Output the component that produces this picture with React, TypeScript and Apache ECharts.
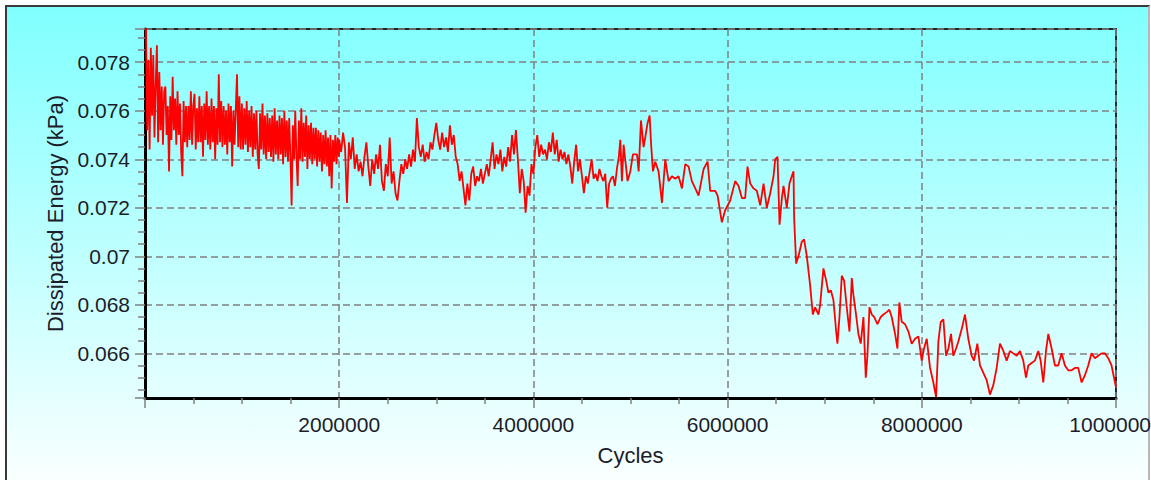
import React, { useEffect, useRef } from "react";
import * as echarts from "echarts";

// Dissipated energy per loading cycle, recorded at three sampling rates.
// Early phase: one reading every 12 500 cycles starting at 10 000.
const earlyStart = 10000;
const earlyStep = 12500;
const earlyEnergy = [
  0.0794, 0.0752, 0.0781, 0.0744, 0.0786, 0.0758, 0.0783, 0.0749, 0.0771, 0.0787,
  0.0747, 0.0776, 0.0752, 0.0770, 0.0746, 0.0768,
  0.0770, 0.0750, 0.0762, 0.0735, 0.0766, 0.0748, 0.0774, 0.0752, 0.0765, 0.0746,
  0.0768, 0.0750, 0.0763, 0.0743, 0.0733, 0.0764, 0.0747, 0.0762, 0.0745, 0.0762,
  0.0748, 0.0768, 0.0746, 0.0762,
  0.0767, 0.0744, 0.0761, 0.0747, 0.0766, 0.0747, 0.0762, 0.0741, 0.0763, 0.0748,
  0.0768, 0.0746, 0.0762, 0.0744, 0.0765, 0.0747, 0.0762, 0.0740, 0.0761, 0.0746,
  0.0775, 0.0747, 0.0764, 0.0745, 0.0762, 0.0746, 0.0760, 0.0742, 0.0763, 0.0747,
  0.0762, 0.0737, 0.0760, 0.0746, 0.0761, 0.0775, 0.0745, 0.0766, 0.0744, 0.0763,
  0.0744, 0.0761, 0.0746, 0.0764, 0.0743, 0.0760, 0.0745, 0.0762, 0.0741, 0.0759,
  0.0744, 0.0760, 0.0742, 0.0736, 0.0759, 0.0744, 0.0763, 0.0742, 0.0758, 0.0740,
  0.0759, 0.0743, 0.0757, 0.0741, 0.0758, 0.0739, 0.0761, 0.0742, 0.0756, 0.0740,
  0.0758, 0.0742, 0.0757, 0.0738, 0.0760, 0.0741, 0.0756, 0.0739, 0.0757, 0.0741,
  0.0721, 0.0754, 0.0740, 0.0760, 0.0741, 0.0729, 0.0756, 0.0740, 0.0761, 0.0739,
  0.0755, 0.0741, 0.0758, 0.0736, 0.0754, 0.0740, 0.0755, 0.0738, 0.0753, 0.0740,
  0.0753, 0.0737, 0.0752, 0.0739, 0.0751, 0.0735, 0.0750, 0.0738, 0.0752, 0.0737,
  0.0749, 0.0733, 0.0750, 0.0728, 0.0748, 0.0739, 0.0750, 0.0738, 0.0749, 0.0741,
];

// Middle phase: one reading every 20 000 cycles from 2 000 000.
const midStart = 2000000;
const midStep = 20000;
const midEnergy = [
  0.0748, 0.0743, 0.0751, 0.0745, 0.0722, 0.0747, 0.0740, 0.0749, 0.0736, 0.0742,
  0.0735,
  0.0739, 0.0733, 0.0741, 0.0747, 0.0737, 0.0729, 0.0740, 0.0734, 0.0742, 0.0736,
  0.0746, 0.0731, 0.0727, 0.0738, 0.0733, 0.0749, 0.0730, 0.0735, 0.0726, 0.0723,
  0.0731, 0.0738, 0.0734, 0.0740, 0.0736, 0.0742, 0.0737, 0.0744, 0.0739, 0.0757,
  0.0745, 0.0741, 0.0746, 0.0739, 0.0743, 0.0740, 0.0747, 0.0744, 0.0750, 0.0755,
  0.0748, 0.0744, 0.0751, 0.0745, 0.0749, 0.0743, 0.0754, 0.0746, 0.0750, 0.0741,
  0.0738, 0.0731, 0.0735, 0.0728, 0.0721, 0.0730, 0.0723, 0.0734, 0.0737, 0.0729,
  0.0733, 0.0731, 0.0736, 0.0730, 0.0734, 0.0738, 0.0733,
  0.0740, 0.0747, 0.0736, 0.0742, 0.0738, 0.0744, 0.0735, 0.0741, 0.0737, 0.0745,
  0.0739, 0.0750, 0.0742, 0.0752, 0.0740, 0.0726, 0.0736, 0.0731, 0.0718, 0.0729,
  0.0725, 0.0738, 0.0734,
  0.0745, 0.0750, 0.0741, 0.0746, 0.0742, 0.0744, 0.0740, 0.0747, 0.0743, 0.0751,
  0.0742, 0.0748, 0.0739, 0.0744, 0.0740, 0.0743, 0.0738, 0.0742, 0.0737, 0.0730,
  0.0739, 0.0746, 0.0735, 0.0740, 0.0733,
  0.0726, 0.0733, 0.0730, 0.0735, 0.0740, 0.0732, 0.0734, 0.0731, 0.0736, 0.0733,
  0.0731, 0.0734, 0.0720, 0.0730, 0.0732,
  0.0733, 0.0729, 0.0736, 0.0741,
];

// Late phase, including the drop after ~6.7 million cycles (cycles in thousands).
const lateKCycles = [
  4895, 4912, 4929, 4970, 4998, 5025, 5067, 5084, 5108, 5135,
  5152, 5176, 5197, 5211, 5231, 5255, 5289, 5324, 5358, 5392,
  5427, 5461, 5495, 5530, 5564, 5598, 5632, 5667, 5701, 5753,
  5794, 5821, 5873, 5897, 5941, 5975, 6027, 6078, 6113, 6147,
  6181, 6205, 6233, 6267, 6301, 6336, 6370, 6404, 6439, 6473,
  6490, 6514, 6535, 6559, 6576, 6610, 6637, 6661, 6679, 6685,
  6706, 6730, 6764, 6788, 6816, 6850, 6878, 6902, 6936, 6953,
  6987, 7015, 7039, 7063, 7090, 7118, 7131, 7152, 7176, 7200,
  7227, 7255, 7279, 7296, 7323, 7347, 7371, 7399, 7423, 7440,
  7461, 7485, 7509, 7543, 7577, 7605, 7639, 7666, 7690, 7725,
  7749, 7769, 7793, 7828, 7862, 7896, 7931, 7965, 7999, 8023,
  8051, 8085, 8119, 8147, 8171, 8195, 8222, 8250, 8274, 8301,
  8325, 8353, 8377, 8411, 8445, 8479, 8514, 8538, 8572, 8599,
  8634, 8668, 8702, 8737, 8771, 8805, 8840, 8874, 8908, 8942,
  8977, 9011, 9045, 9073, 9097, 9131, 9165, 9200, 9224, 9251,
  9279, 9303, 9337, 9371, 9405, 9440, 9474, 9508, 9543, 9577,
  9611, 9646, 9680, 9714, 9748, 9783, 9817, 9851, 9886, 9920,
  9954, 10000,
];
const lateEnergy = [
  0.0748, 0.0731, 0.0746, 0.0731, 0.0735, 0.0742, 0.0742, 0.0735, 0.0756, 0.0745,
  0.0749, 0.0755, 0.0758, 0.0747, 0.0735, 0.0739, 0.0735, 0.0722, 0.0740, 0.0731,
  0.0733, 0.0732, 0.0733, 0.0728, 0.0738, 0.0737, 0.0731, 0.0728, 0.0725, 0.0736,
  0.0739, 0.0727, 0.0727, 0.0725, 0.0714, 0.0719, 0.0723, 0.0731, 0.0729, 0.0724,
  0.0724, 0.0737, 0.0730, 0.0728, 0.0727, 0.0721, 0.0730, 0.0720, 0.0726, 0.0733,
  0.0740, 0.0741, 0.0713, 0.0724, 0.0729, 0.0720, 0.0730, 0.0733, 0.0735, 0.0716,
  0.0697, 0.0700, 0.0706, 0.0707, 0.0700, 0.0688, 0.0676, 0.0679, 0.0676, 0.0680,
  0.0695, 0.0690, 0.0685, 0.0686, 0.0682, 0.0669, 0.0664, 0.0675, 0.0692, 0.0690,
  0.0679, 0.0669, 0.0691, 0.0684, 0.0676, 0.0668, 0.0664, 0.0675, 0.0650, 0.0659,
  0.0679, 0.0676, 0.0675, 0.0672, 0.0675, 0.0676, 0.0677, 0.0678, 0.0675, 0.0668,
  0.0662, 0.0681, 0.0673, 0.0672, 0.0669, 0.0664, 0.0666, 0.0667, 0.0657, 0.0662,
  0.0666, 0.0654, 0.0648, 0.0642, 0.0665, 0.0673, 0.0674, 0.0659, 0.0662, 0.0668,
  0.0659, 0.0662, 0.0665, 0.0670, 0.0676, 0.0666, 0.0659, 0.0657, 0.0664, 0.0655,
  0.0652, 0.0649, 0.0643, 0.0647, 0.0654, 0.0664, 0.0661, 0.0657, 0.0661, 0.0660,
  0.0659, 0.0661, 0.0657, 0.0650, 0.0655, 0.0656, 0.0657, 0.0661, 0.0657, 0.0648,
  0.0661, 0.0668, 0.0662, 0.0655, 0.0655, 0.0660, 0.0655, 0.0653, 0.0653, 0.0654,
  0.0654, 0.0648, 0.0651, 0.0655, 0.0660, 0.0658, 0.0659, 0.0660, 0.0660, 0.0658,
  0.0655, 0.0646,
];

// Axis extents and labels
const cycleMin = 0;
const cycleMax = 10000000;
const cycleInterval = 2000000;
const energyMin = 0.06416;
const energyMax = 0.07937;
const xTitle = "Cycles";
const yTitle = "Dissipated Energy (kPa)";

const FONT = "'Liberation Sans', Arial, sans-serif";
const TEXT = "#1c1c2a";
const GRID_GREY = "#808080";

function buildSeries(): [number, number][] {
  const pts: [number, number][] = [];
  earlyEnergy.forEach((v, i) => pts.push([earlyStart + i * earlyStep, v]));
  midEnergy.forEach((v, i) => pts.push([midStart + i * midStep, v]));
  lateEnergy.forEach((v, i) => pts.push([lateKCycles[i] * 1000, v]));
  return pts;
}

export default function App() {
  const ref = useRef<HTMLDivElement>(null);

  useEffect(() => {
    if (!ref.current) return;
    const chart = echarts.init(ref.current, null, { renderer: "svg" });
    chart.setOption({
      animation: false,
      backgroundColor: "transparent",
      grid: {
        left: 145,
        right: 35,
        top: 29,
        bottom: 82,
        show: true,
        borderColor: "#1d2828",
        borderWidth: 2,
        backgroundColor: "transparent",
        outerBoundsMode: "none",
        containLabel: false,
      },
      xAxis: {
        type: "value",
        min: cycleMin,
        max: cycleMax,
        interval: cycleInterval,
        name: xTitle,
        nameLocation: "middle",
        nameGap: 46,
        nameTextStyle: { fontFamily: FONT, fontSize: 22, color: TEXT },
        axisLine: { show: true, onZero: false, lineStyle: { color: "#000", width: 3 } },
        axisTick: { show: true, length: 10, lineStyle: { color: GRID_GREY, width: 1.5 } },
        minorTick: { show: true, splitNumber: 4, length: 6, lineStyle: { color: GRID_GREY, width: 1.5 } },
        axisLabel: {
          margin: 16,
          fontFamily: FONT,
          fontSize: 21,
          color: TEXT,
          showMinLabel: false,
          formatter: (v: number) => String(v),
        },
        splitLine: { show: true, lineStyle: { color: GRID_GREY, width: 1.5, type: [7, 4] } },
      },
      yAxis: {
        type: "value",
        min: energyMin,
        max: energyMax,
        splitNumber: 8,
        name: yTitle,
        nameLocation: "middle",
        nameGap: 76,
        nameTextStyle: { fontFamily: FONT, fontSize: 22, color: TEXT },
        axisLine: { show: true, onZero: false, lineStyle: { color: "#000", width: 3 } },
        axisTick: { show: true, length: 10, lineStyle: { color: GRID_GREY, width: 1.5 } },
        minorTick: { show: true, splitNumber: 4, length: 7, lineStyle: { color: GRID_GREY, width: 1.5 } },
        axisLabel: {
          margin: 15,
          fontFamily: FONT,
          fontSize: 21,
          color: TEXT,
          showMinLabel: false,
          showMaxLabel: false,
          formatter: (v: number) => String(parseFloat(v.toFixed(4))),
        },
        splitLine: { show: true, lineStyle: { color: GRID_GREY, width: 1.5, type: [7, 4] } },
      },
      series: [
        {
          type: "line",
          data: buildSeries(),
          showSymbol: false,
          symbol: "none",
          lineStyle: { color: "#ff0000", width: 1.8 },
          itemStyle: { color: "#ff0000" },
          clip: true,
        },
      ],
    });
    return () => chart.dispose();
  }, []);

  return (
    <div
      style={{
        position: "fixed",
        left: 0,
        top: 0,
        width: 1151,
        height: 480,
        background: "#ffffff",
        overflow: "hidden",
      }}
    >
      <div
        style={{
          position: "absolute",
          left: 5,
          top: 5,
          width: 1145,
          height: 495,
          boxSizing: "border-box",
          borderLeft: "2px solid #3a3a3a",
          borderTop: "2px solid #3a3a3a",
          borderRight: "2px solid #b8b8b8",
          background: "linear-gradient(to bottom, #80ffff 0%, #ffffff 100%)",
        }}
      />
      <div ref={ref} style={{ position: "absolute", left: 0, top: 0, width: 1151, height: 480 }} />
    </div>
  );
}
